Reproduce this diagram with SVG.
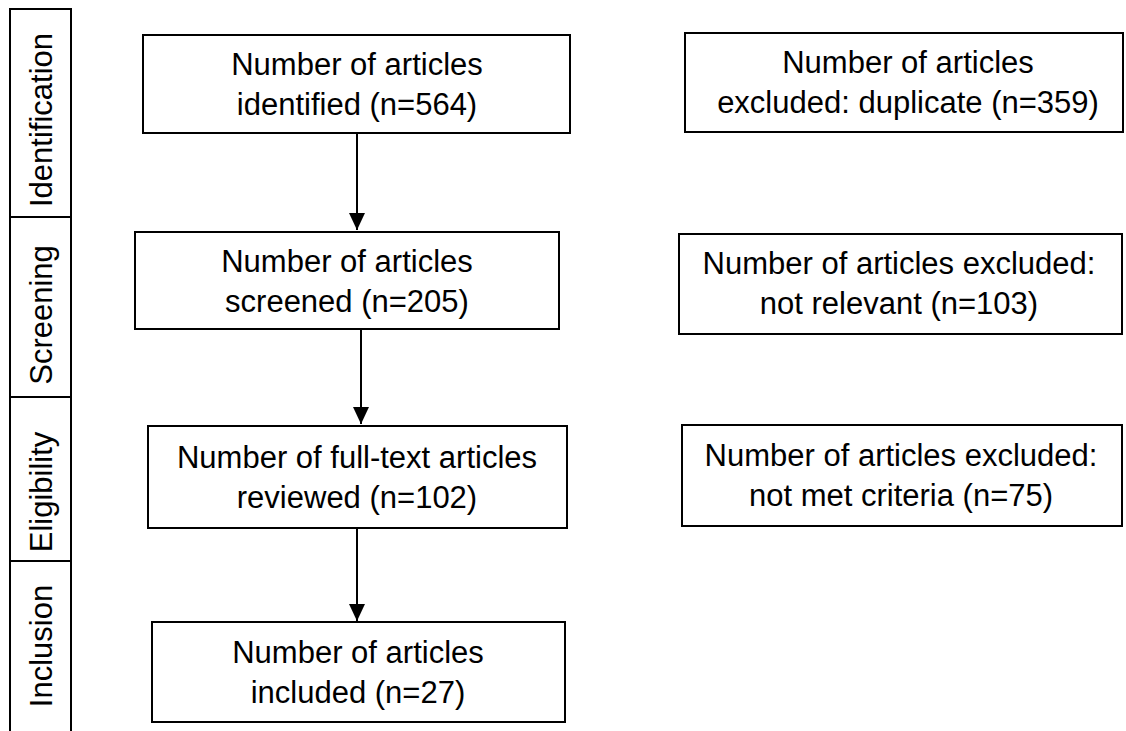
<svg xmlns="http://www.w3.org/2000/svg" width="1126" height="731" viewBox="0 0 1126 731">
  <style>
    .box { fill: #ffffff; stroke: #000000; stroke-width: 2; }
    .cell { fill: none; stroke: #000000; stroke-width: 2; }
    .t { font-family: "Liberation Sans", Arial, sans-serif; font-size: 31px; fill: #000000; text-anchor: middle; }
    .conn { stroke: #000000; stroke-width: 2; fill: none; }
  </style>
  <defs>
    <marker id="arrow" markerUnits="userSpaceOnUse" markerWidth="18" markerHeight="18" viewBox="0 0 18 18" refX="17" refY="9" orient="auto">
      <polygon points="0,1 17,9 0,17" fill="#000000"/>
    </marker>
  </defs>
  <rect width="1126" height="731" fill="#ffffff"/>

  <g id="stages">
    <g id="stage-identification">
      <rect class="cell" x="10" y="9" width="61" height="208"/>
      <line class="cell" x1="71" y1="217" x2="71" y2="233"/>
      <text class="t" transform="translate(52,120) rotate(-90)">Identification</text>
    </g>
    <g id="stage-screening">
      <rect class="cell" x="10" y="217" width="61" height="180"/>
      <text class="t" transform="translate(52,315) rotate(-90)">Screening</text>
    </g>
    <g id="stage-eligibility">
      <rect class="cell" x="10" y="397" width="61" height="164"/>
      <text class="t" transform="translate(52,492) rotate(-90)">Eligibility</text>
    </g>
    <g id="stage-inclusion">
      <rect class="cell" x="10" y="561" width="61" height="190"/>
      <text class="t" transform="translate(52,646) rotate(-90)">Inclusion</text>
    </g>
  </g>

  <g id="connectors">
    <line class="conn" x1="357" y1="133" x2="357" y2="230" marker-end="url(#arrow)"/>
    <line class="conn" x1="361" y1="329" x2="361" y2="424" marker-end="url(#arrow)"/>
    <line class="conn" x1="357" y1="528" x2="357" y2="621" marker-end="url(#arrow)"/>
  </g>

  <g id="identified">
    <rect class="box" x="143" y="35" width="427" height="98"/>
    <text class="t" x="357" y="75">Number of articles</text>
    <text class="t" x="357" y="115">identified (n=564)</text>
  </g>
  <g id="screened">
    <rect class="box" x="135" y="232" width="424" height="97"/>
    <text class="t" x="347" y="272">Number of articles</text>
    <text class="t" x="347" y="312">screened (n=205)</text>
  </g>
  <g id="reviewed">
    <rect class="box" x="148" y="426" width="419" height="102"/>
    <text class="t" x="357" y="468">Number of full-text articles</text>
    <text class="t" x="357" y="508">reviewed (n=102)</text>
  </g>
  <g id="included">
    <rect class="box" x="152" y="622" width="413" height="100"/>
    <text class="t" x="358" y="663">Number of articles</text>
    <text class="t" x="358" y="703">included (n=27)</text>
  </g>

  <g id="excluded-duplicate">
    <rect class="box" x="685" y="33" width="438" height="99"/>
    <text class="t" x="908" y="73">Number of articles</text>
    <text class="t" x="908" y="113">excluded: duplicate (n=359)</text>
  </g>
  <g id="excluded-not-relevant">
    <rect class="box" x="679" y="234" width="443" height="100"/>
    <text class="t" x="899" y="274">Number of articles excluded:</text>
    <text class="t" x="899" y="314">not relevant (n=103)</text>
  </g>
  <g id="excluded-not-met">
    <rect class="box" x="682" y="425" width="440" height="101"/>
    <text class="t" x="901" y="466">Number of articles excluded:</text>
    <text class="t" x="901" y="506">not met criteria (n=75)</text>
  </g>
</svg>
